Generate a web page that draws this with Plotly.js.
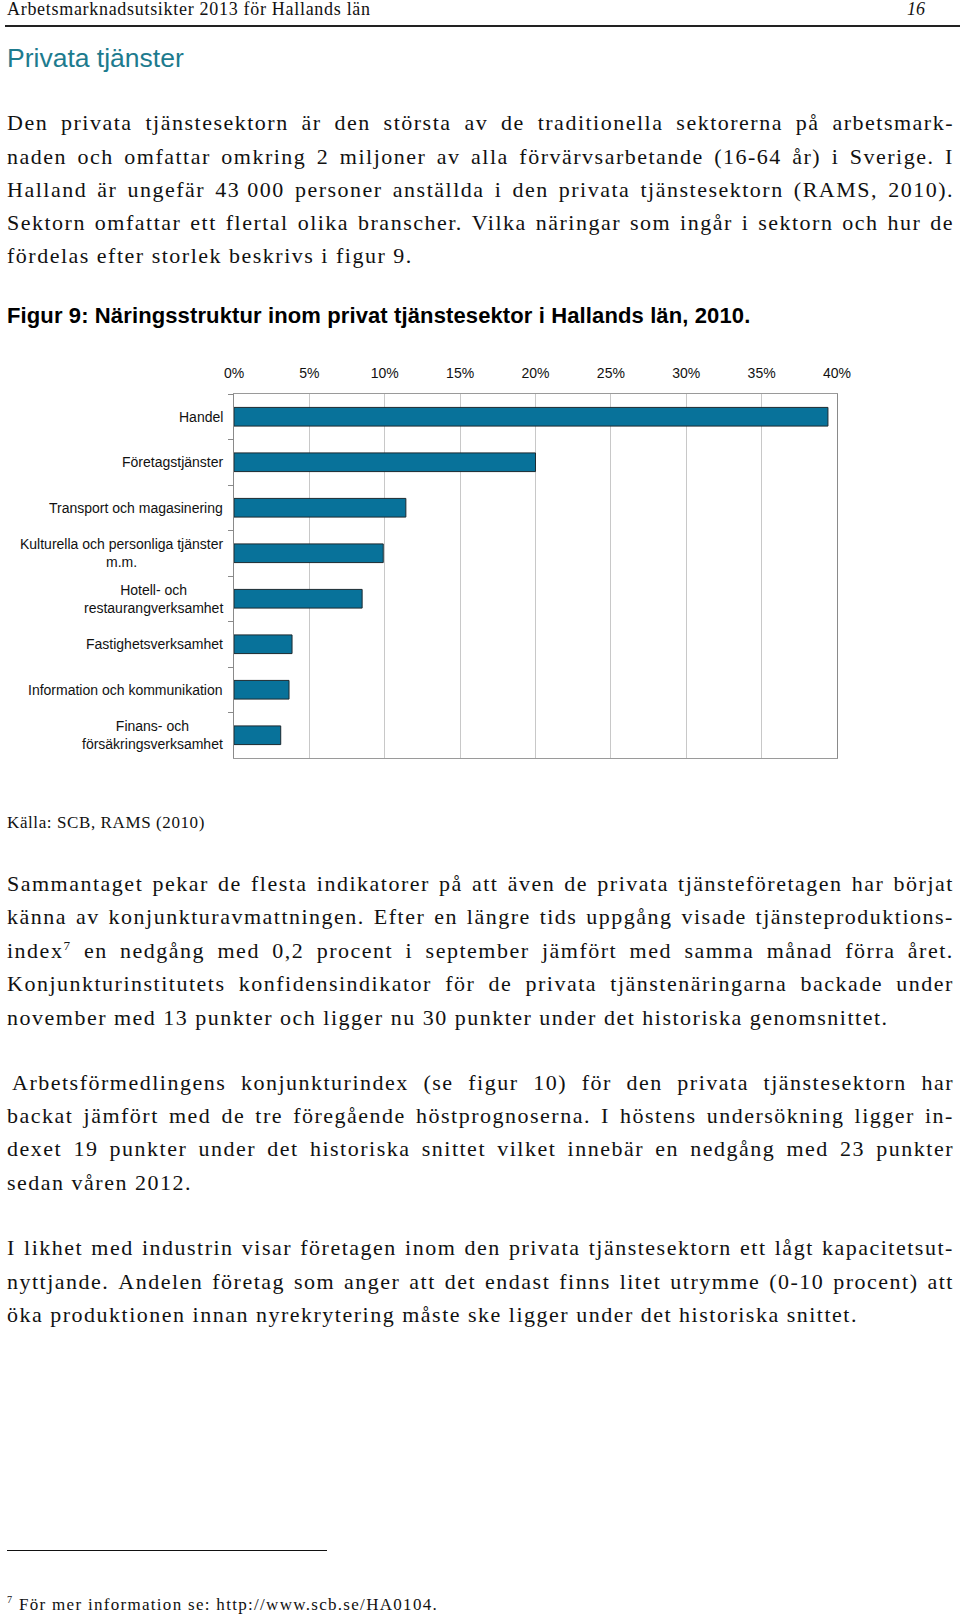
<!DOCTYPE html>
<html>
<head>
<meta charset="utf-8">
<script src="https://cdn.plot.ly/plotly-3.0.1.min.js"></script>
<style>
  html, body { margin:0; padding:0; background:#fff; }
  body { width:960px; height:1616px; position:relative; overflow:hidden; color:#111; }
  .serif { font-family:"Liberation Serif","Times New Roman",serif; }
  .hdr { position:absolute; left:7px; top:0px; font-size:18px; line-height:19px; letter-spacing:0.7px; }
  .pg { position:absolute; left:907px; top:0px; font-size:18px; line-height:19px; font-style:italic; }
  .rule { position:absolute; left:5px; width:955px; top:25px; height:1.5px; background:#222; }
  .h2 { position:absolute; left:7px; top:42px; font-family:"Liberation Sans",Arial,sans-serif; font-size:26.5px; line-height:32px; color:#1d7b8e; }
  .ln { position:absolute; left:7px; width:947px; height:33.4px; line-height:33.4px; font-size:22px; letter-spacing:1.5px; white-space:nowrap; }
  .ln.j { display:flex; justify-content:space-between; }
  .figt { position:absolute; left:7px; top:302px; font-family:"Liberation Sans",Arial,sans-serif; font-weight:bold; font-size:22px; line-height:28px; letter-spacing:0.12px; color:#000; }
  .src { position:absolute; left:7px; top:812px; font-size:17px; line-height:22px; letter-spacing:0.6px; }
  .fnrule { position:absolute; left:7px; top:1550px; width:320px; height:1.3px; background:#111; }
  .fn { position:absolute; left:7px; top:1594px; font-size:17px; line-height:22px; letter-spacing:1.3px; }
  .fn sup, .ln sup { font-size:60%; vertical-align:super; line-height:0; }
  #chart { position:absolute; left:0; top:330px; width:960px; height:450px; }
</style>
</head>
<body>
<div class="hdr serif">Arbetsmarknadsutsikter 2013 för Hallands län</div>
<div class="pg serif">16</div>
<div class="rule"></div>
<div class="h2">Privata tjänster</div>
<div id="text"></div>
<div class="figt">Figur 9: Näringsstruktur inom privat tjänstesektor i Hallands län, 2010.</div>
<div id="chart"></div>
<div class="src serif">Källa: SCB, RAMS (2010)</div>
<div class="fnrule"></div>
<div class="fn serif"><sup>7</sup> För mer information se: http://www.scb.se/HA0104.</div>
<script>
// ---- chart data ----
const categories = [
  "Handel",
  "Företagstjänster",
  "Transport och magasinering",
  "Kulturella och personliga tjänster m.m.",
  "Hotell- och restaurangverksamhet",
  "Fastighetsverksamhet",
  "Information och kommunikation",
  "Finans- och försäkringsverksamhet"
];
const categoryLabels = [
  "Handel",
  "Företagstjänster",
  "Transport och magasinering",
  "Kulturella och personliga tjänster<br>m.m.",
  "Hotell- och<br>restaurangverksamhet",
  "Fastighetsverksamhet",
  "Information och kommunikation",
  "Finans- och<br>försäkringsverksamhet"
];
const shares = [39.4, 20.0, 11.4, 9.9, 8.5, 3.85, 3.65, 3.1];
const tickValues = [0, 5, 10, 15, 20, 25, 30, 35, 40];
const tickLabels = ["0%", "5%", "10%", "15%", "20%", "25%", "30%", "35%", "40%"];

// ---- body text ----
const textLines = [
  // [centerY, justified, text, indent]
  [122.7, true, "Den privata tjänstesektorn är den största av de traditionella sektorerna på arbetsmark-"],
  [156.7, true, "naden och omfattar omkring 2 miljoner av alla förvärvsarbetande (16-64 år) i Sverige. I"],
  [189.7, true, "Halland är ungefär 43\u00a0000 personer anställda i den privata tjänstesektorn (RAMS, 2010)."],
  [222.7, true, "Sektorn omfattar ett flertal olika branscher. Vilka näringar som ingår i sektorn och hur de"],
  [255.7, false, "fördelas efter storlek beskrivs i figur 9."],
  [883.7, true, "Sammantaget pekar de flesta indikatorer på att även de privata tjänsteföretagen har börjat"],
  [916.7, true, "känna av konjunkturavmattningen. Efter en längre tids uppgång visade tjänsteproduktions-"],
  [950.7, true, "index<sup>7</sup> en nedgång med 0,2 procent i september jämfört med samma månad förra året."],
  [983.7, true, "Konjunkturinstitutets konfidensindikator för de privata tjänstenäringarna backade under"],
  [1017.7, false, "november med 13 punkter och ligger nu 30 punkter under det historiska genomsnittet."],
  [1082.7, true, "Arbetsförmedlingens konjunkturindex (se figur 10) för den privata tjänstesektorn har", 5],
  [1115.7, true, "backat jämfört med de tre föregående höstprognoserna. I höstens undersökning ligger in-"],
  [1148.7, true, "dexet 19 punkter under det historiska snittet vilket innebär en nedgång med 23 punkter"],
  [1182.7, false, "sedan våren 2012."],
  [1247.7, true, "I likhet med industrin visar företagen inom den privata tjänstesektorn ett lågt kapacitetsut-"],
  [1281.7, true, "nyttjande. Andelen företag som anger att det endast finns litet utrymme (0-10 procent) att"],
  [1314.7, false, "öka produktionen innan nyrekrytering måste ske ligger under det historiska snittet."]
];
const textHost = document.getElementById("text");
textLines.forEach(function (l) {
  const d = document.createElement("div");
  d.className = "ln serif" + (l[1] ? " j" : "");
  d.style.top = (l[0] - 16.7) + "px";
  if (l[3]) { d.style.left = (7 + l[3]) + "px"; d.style.width = (947 - l[3]) + "px"; }
  if (l[1]) {
    l[2].split(" ").forEach(function (w) {
      const s = document.createElement("span");
      s.innerHTML = w;
      d.appendChild(s);
    });
  } else {
    d.innerHTML = l[2];
  }
  textHost.appendChild(d);
});

// ---- chart ----
const font = "Liberation Sans, Arial, sans-serif";
const trace = {
  type: "bar",
  orientation: "h",
  x: shares,
  y: categories,
  marker: { color: "#08729a", line: { color: "#1c2a30", width: 1 } },
  hoverinfo: "x+y"
};
const annotations = categories.map(function (c, i) {
  return {
    xref: "paper", yref: "y", x: 0, y: c,
    xanchor: "right", yanchor: "middle", xshift: -9,
    text: categoryLabels[i], showarrow: false, align: "center",
    font: { family: font, size: 14, color: "#111" }
  };
});
const layout = {
  width: 960, height: 450,
  margin: { l: 234, r: 123, t: 64, b: 22, pad: 0 },
  paper_bgcolor: "#fff", plot_bgcolor: "#fff",
  showlegend: false,
  bargap: 0.59,
  font: { family: font, size: 14, color: "#111" },
  xaxis: {
    range: [0, 40], side: "top",
    tickmode: "array", tickvals: tickValues, ticktext: tickLabels,
    showgrid: true, gridcolor: "#c8c8c8", gridwidth: 1,
    showline: true, linecolor: "#9a9a9a", linewidth: 1, mirror: true,
    zeroline: false, ticks: "", ticklabelstandoff: 9,
    tickfont: { family: font, size: 14, color: "#111" },
    fixedrange: true
  },
  yaxis: {
    type: "category", categoryorder: "array", categoryarray: categories,
    autorange: "reversed",
    showticklabels: false, showgrid: false,
    showline: true, linecolor: "#8a8a8a", linewidth: 1, mirror: true,
    ticks: "outside", tickson: "boundaries", ticklen: 5, tickcolor: "#8a8a8a",
    zeroline: false, fixedrange: true
  },
  annotations: annotations
};
Plotly.newPlot("chart", [trace], layout, { displayModeBar: false, staticPlot: true });
</script>
</body>
</html>
